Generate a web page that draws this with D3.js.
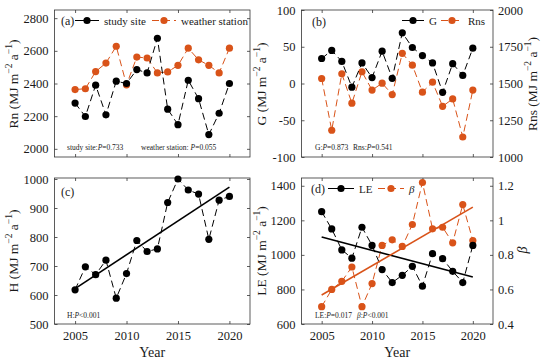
<!DOCTYPE html>
<html>
<head>
<meta charset="utf-8">
<script src="https://cdn.jsdelivr.net/npm/d3@7"></script>
<style>
  body { margin: 0; background: #fff; }
  text { font-family: "Liberation Serif", "Times New Roman", serif; fill: #1a1a1a; }
</style>
</head>
<body>
<script>
// data
var years = [2005, 2006, 2007, 2008, 2009, 2010, 2011, 2012, 2013, 2014, 2015, 2016, 2017, 2018, 2019, 2020];
var rnSite = [2280, 2198, 2390, 2208, 2414, 2400, 2485, 2465, 2677, 2243, 2148, 2420, 2307, 2087, 2218, 2400];
var rnStation = [2363, 2368, 2473, 2525, 2628, 2392, 2562, 2556, 2465, 2471, 2511, 2616, 2545, 2511, 2465, 2616];
var gVals = [34, 45, 30, -5, 28, 8, 44, 7, 69, 49, 38, 28, -12, 27, 11, 48];
var rnsVals = [1534, 1182, 1566, 1366, 1580, 1455, 1502, 1425, 1705, 1625, 1441, 1509, 1345, 1395, 1136, 1455];
var hVals = [618, 697, 670, 720, 589, 674, 788, 750, 759, 919, 1000, 962, 948, 792, 927, 940];
var leVals = [1250, 1150, 1029, 981, 1160, 1055, 915, 840, 882, 934, 819, 1007, 978, 905, 840, 1055];
var betaVals = [0.50, 0.60, 0.647, 0.73, 0.50, 0.634, 0.855, 0.887, 0.849, 0.976, 1.219, 0.951, 0.96, 0.87, 1.091, 0.883];

var xTicks = [2005, 2010, 2015, 2020];
var rnTicks = [2000, 2200, 2400, 2600, 2800];
var gTicks = [-100, -50, 0, 50, 100];
var rnsTicks = [1000, 1250, 1500, 1750, 2000];
var hTicks = [500, 600, 700, 800, 900, 1000];
var leTicks = [600, 800, 1000, 1200, 1400];
var betaTicks = [0.4, 0.6, 0.8, 1, 1.2];

var width = 550;
var height = 364;
var orange = '#d95319';
var axisColor = '#333';

var svg = d3.select('body')
  .append('svg')
  .attr('width', width)
  .attr('height', height);

var boxA = { left: 54.5, right: 250, top: 10, bottom: 157 };
var boxB = { left: 301.5, right: 493, top: 10, bottom: 157 };
var boxC = { left: 54.5, right: 250, top: 178, bottom: 324 };
var boxD = { left: 301.5, right: 493, top: 178, bottom: 324 };

function xScaleFor(b) {
  return d3.scaleLinear().domain([2003, 2022]).range([b.left, b.right]);
}

function styleAxis(g) {
  g.select('.domain').remove();
  g.selectAll('line').attr('stroke', axisColor).attr('stroke-width', 0.8);
  g.selectAll('text')
    .style('font-family', '"Liberation Serif", "Times New Roman", serif')
    .style('font-size', '12.5px')
    .attr('fill', '#1a1a1a');
}

function drawFrame(b, x, showYears) {
  var bottom = d3.axisBottom(x).tickValues(xTicks).tickSizeInner(-3).tickSizeOuter(0).tickPadding(7)
    .tickFormat(showYears ? d3.format('d') : '');
  svg.append('g').attr('transform', 'translate(0,' + b.bottom + ')').call(bottom).call(styleAxis);
  svg.append('g').attr('transform', 'translate(0,' + b.top + ')')
    .call(d3.axisTop(x).tickValues(xTicks).tickSizeInner(-3).tickSizeOuter(0).tickFormat(''))
    .call(styleAxis);
  svg.append('rect')
    .attr('x', b.left).attr('y', b.top)
    .attr('width', b.right - b.left).attr('height', b.bottom - b.top)
    .attr('fill', 'none').attr('stroke', axisColor).attr('stroke-width', 0.8);
}

function leftAxis(b, y, ticks) {
  svg.append('g').attr('transform', 'translate(' + b.left + ',0)')
    .call(d3.axisLeft(y).tickValues(ticks).tickSizeInner(-3).tickSizeOuter(0).tickPadding(6)
      .tickFormat(function(d) { return String(d); }))
    .call(styleAxis);
}

function rightAxis(b, y, ticks, labels) {
  var ax = d3.axisRight(y).tickValues(ticks).tickSizeInner(-3).tickSizeOuter(0).tickPadding(5);
  if (!labels) ax.tickFormat('');
  else ax.tickFormat(function(d) { return String(d); });
  svg.append('g').attr('transform', 'translate(' + b.right + ',0)').call(ax).call(styleAxis);
}

function series(x, y, vals, color) {
  var line = d3.line()
    .x(function(d, i) { return x(years[i]); })
    .y(function(d) { return y(d); });
  svg.append('path')
    .datum(vals)
    .attr('d', line)
    .attr('fill', 'none')
    .attr('stroke', color)
    .attr('stroke-width', 1)
    .attr('stroke-dasharray', '7,4');
  svg.append('g').selectAll('circle')
    .data(vals)
    .enter().append('circle')
    .attr('cx', function(d, i) { return x(years[i]); })
    .attr('cy', function(d) { return y(d); })
    .attr('r', 3.6)
    .attr('fill', color);
}

// least-squares trend over the plotted years
function trend(x, y, vals, color) {
  var mx = d3.mean(years), my = d3.mean(vals);
  var sxy = d3.sum(years, function(d, i) { return (d - mx) * (vals[i] - my); });
  var sxx = d3.sum(years, function(d) { return (d - mx) * (d - mx); });
  var k = sxy / sxx;
  var ends = [years[0], years[years.length - 1]];
  svg.append('line')
    .attr('x1', x(ends[0])).attr('y1', y(my + k * (ends[0] - mx)))
    .attr('x2', x(ends[1])).attr('y2', y(my + k * (ends[1] - mx)))
    .attr('stroke', color)
    .attr('stroke-width', 1.6);
}

function legendItem(cx, cy, color, label, len, italic) {
  svg.append('line')
    .attr('x1', cx - len / 2).attr('x2', cx + len / 2)
    .attr('y1', cy).attr('y2', cy)
    .attr('stroke', color).attr('stroke-width', 1)
    .attr('stroke-dasharray', color === orange ? '7,4' : null);
  svg.append('circle').attr('cx', cx).attr('cy', cy).attr('r', 3.6).attr('fill', color);
  svg.append('text')
    .attr('x', cx + len / 2 + 5).attr('y', cy + 4)
    .style('font-size', '11px')
    .style('font-style', italic ? 'italic' : 'normal')
    .text(label);
}

function panelTag(x, y, t) {
  svg.append('text').attr('x', x).attr('y', y).style('font-size', '12px').text(t);
}

function note(x, y, parts) {
  var t = svg.append('text').attr('x', x).attr('y', y).style('font-size', '7.5px');
  parts.forEach(function(p) {
    t.append('tspan').style('font-style', p[1] ? 'italic' : 'normal').text(p[0]);
  });
}

function unitTitle(x, y, name) {
  var t = svg.append('text')
    .attr('transform', 'translate(' + x + ',' + y + ') rotate(-90)')
    .attr('text-anchor', 'middle')
    .style('font-size', '13.5px');
  t.append('tspan').text(name + ' (MJ m');
  t.append('tspan').attr('dy', -6).style('font-size', '9.5px').text('\u22122');
  t.append('tspan').attr('dy', 6).text(' a');
  t.append('tspan').attr('dy', -6).style('font-size', '9.5px').text('\u22121');
  t.append('tspan').attr('dy', 6).text(')');
}

// panel (a)
var xA = xScaleFor(boxA);
var yA = d3.scaleLinear().domain([1950, 2850]).range([boxA.bottom, boxA.top]);
drawFrame(boxA, xA, false);
leftAxis(boxA, yA, rnTicks);
rightAxis(boxA, yA, rnTicks, false);
series(xA, yA, rnStation, orange);
series(xA, yA, rnSite, '#000');
panelTag(61, 25, '(a)');
legendItem(87, 20.5, '#000', 'study site', 24);
legendItem(164, 20.5, orange, 'weather station', 24);
note(67, 150, [['study site:', false], ['P', true], ['=0.733', false]]);
note(141, 150, [['weather station: ', false], ['P', true], ['=0.055', false]]);
unitTitle(18, 84, 'Rn');

// panel (b)
var xB = xScaleFor(boxB);
var yB = d3.scaleLinear().domain([-100, 100]).range([boxB.bottom, boxB.top]);
var yB2 = d3.scaleLinear().domain([1000, 2000]).range([boxB.bottom, boxB.top]);
drawFrame(boxB, xB, false);
leftAxis(boxB, yB, gTicks);
rightAxis(boxB, yB2, rnsTicks, true);
series(xB, yB2, rnsVals, orange);
series(xB, yB, gVals, '#000');
panelTag(312, 26, '(b)');
legendItem(413, 20.5, '#000', 'G', 22);
legendItem(452, 20.5, orange, 'Rns', 22);
note(315, 150, [['G:', false], ['P', true], ['=0.873', false]]);
note(353, 150, [['Rns:', false], ['P', true], ['=0.541', false]]);
unitTitle(266, 84, 'G');
unitTitle(537, 84, 'Rns');

// panel (c)
var xC = xScaleFor(boxC);
var yC = d3.scaleLinear().domain([500, 1000]).range([boxC.bottom, boxC.top + 1]);
drawFrame(boxC, xC, true);
leftAxis(boxC, yC, hTicks);
rightAxis(boxC, yC, hTicks, false);
series(xC, yC, hVals, '#000');
trend(xC, yC, hVals, '#000');
panelTag(61, 196, '(c)');
note(67, 318, [['H:', false], ['P', true], ['<0.001', false]]);
unitTitle(18, 251, 'H');

// panel (d)
var xD = xScaleFor(boxD);
var yD = d3.scaleLinear().domain([600, 1445]).range([boxD.bottom, boxD.top]);
var yD2 = d3.scaleLinear().domain([0.4, 1.245]).range([boxD.bottom, boxD.top]);
drawFrame(boxD, xD, true);
leftAxis(boxD, yD, leTicks);
rightAxis(boxD, yD2, betaTicks, true);
series(xD, yD2, betaVals, orange);
series(xD, yD, leVals, '#000');
trend(xD, yD, leVals, '#000');
trend(xD, yD2, betaVals, orange);
panelTag(311, 193, '(d)');
legendItem(341, 188.5, '#000', 'LE', 26);
legendItem(391, 188.5, orange, '\u03b2', 26, true);
note(315, 318, [['LE:', false], ['P', true], ['=0.017', false]]);
note(357, 318, [['\u03b2', true], [':', false], ['P', true], ['<0.001', false]]);
unitTitle(266, 251, 'LE');

svg.append('text')
  .attr('transform', 'translate(527,250) rotate(-90)')
  .attr('text-anchor', 'middle')
  .style('font-size', '14px')
  .style('font-style', 'italic')
  .text('\u03b2');

svg.append('text').attr('x', (boxC.left + boxC.right) / 2).attr('y', 357)
  .attr('text-anchor', 'middle').style('font-size', '14px').text('Year');
svg.append('text').attr('x', (boxD.left + boxD.right) / 2).attr('y', 357)
  .attr('text-anchor', 'middle').style('font-size', '14px').text('Year');
</script>
</body>
</html>
